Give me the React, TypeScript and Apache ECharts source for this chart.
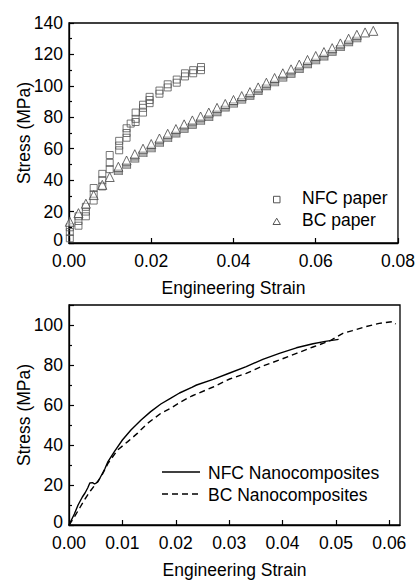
import React, { useEffect, useRef } from "react";
import * as echarts from "echarts";

// ---- Top panel: paper tensile data (strain, stress MPa) ----
const nfcPaperStrain = [
  0.0002, 0.0002, 0.0002, 0.0023, 0.0023, 0.0023, 0.0041, 0.0041, 0.0041,
  0.006, 0.006, 0.006, 0.0081, 0.0081, 0.0081, 0.0099, 0.0099, 0.0099,
  0.0122, 0.0122, 0.0122, 0.014, 0.014, 0.014, 0.015, 0.0162, 0.0162, 0.0162,
  0.018, 0.018, 0.018, 0.0196, 0.0196, 0.0196, 0.022, 0.022, 0.024, 0.024,
  0.0262, 0.0262, 0.0282, 0.0282, 0.0302, 0.0302, 0.0321, 0.0321,
];
const nfcPaperStress = [
  3, 7, 10, 11, 14, 17, 17, 20, 23,
  27, 31, 35, 36, 40, 44, 47, 51, 56,
  59, 62, 65, 67, 70, 73, 76, 77, 79, 83,
  83, 86, 88, 89, 91, 93, 95, 97, 99, 101,
  102, 104, 106, 108, 108, 110, 110, 112,
];

const bcPaperStrain = [
  0.0002, 0.0023, 0.0041, 0.006, 0.0081, 0.0099, 0.012, 0.014, 0.016, 0.018,
  0.02, 0.022, 0.024, 0.026, 0.028, 0.03, 0.032, 0.034, 0.036, 0.038, 0.04,
  0.042, 0.044, 0.046, 0.048, 0.05, 0.052, 0.054, 0.056, 0.058, 0.06, 0.062,
  0.064, 0.066, 0.068, 0.07, 0.072, 0.074,
];
const bcPaperStress = [
  13.5, 19, 25, 30.5, 37, 42, 48.5, 52.5, 56.5, 60,
  63, 66.5, 69.5, 72.5, 75.5, 78, 80.5, 83, 86, 88.5, 91,
  93.5, 96, 99, 102, 105, 108, 110.5, 113.5, 116.5, 119, 121.5,
  124, 127, 130, 132.5, 134, 135,
];
// darker stacked specimens just under the BC triangles
const bcPaperLowerStrain = [
  0.012, 0.014, 0.016, 0.018, 0.02, 0.022, 0.024, 0.026, 0.028, 0.03, 0.032,
  0.034, 0.036, 0.038, 0.04, 0.042, 0.044, 0.046, 0.048, 0.05, 0.052, 0.054,
  0.056, 0.058, 0.06, 0.062, 0.064, 0.066, 0.068, 0.07,
];
const bcPaperLowerStress = [
  45, 49, 53, 56.5, 59.5, 63, 66, 69, 72, 74.5, 77,
  79.5, 82.5, 85.5, 88, 90.5, 93, 96, 99, 101.5, 104.5, 107,
  110, 113, 115.5, 118, 121, 124, 127, 129.5,
];

// ---- Bottom panel: nanocomposite curves ----
const nfcNanoStrain = [
  0, 0.001, 0.0017, 0.0025, 0.003, 0.0035, 0.0039, 0.0044, 0.0048, 0.0054,
  0.006, 0.0067, 0.0073, 0.0085, 0.01, 0.0116, 0.0135, 0.0153, 0.0172, 0.019,
  0.0207, 0.023, 0.0239, 0.027, 0.0301, 0.0332, 0.0363, 0.0394, 0.0426,
  0.0457, 0.048, 0.0505,
];
const nfcNanoStress = [
  0, 5.5, 10, 14, 16, 18.5, 21, 21.2, 20.5, 21.5,
  24.5, 28, 31.7, 36.7, 42.5, 47.5, 52.5, 56.7, 60.5, 63.3,
  66, 68.8, 70, 72.8, 76, 79.2, 82.8, 85.8, 88.6,
  90.6, 91.8, 92.8,
];
const bcNanoStrain = [
  0, 0.001, 0.002, 0.003, 0.004, 0.005, 0.006, 0.0073, 0.0091, 0.011,
  0.0128, 0.0147, 0.0172, 0.019, 0.0209, 0.023, 0.027, 0.0301, 0.0332,
  0.0363, 0.0394, 0.0426, 0.0457, 0.0488, 0.0513, 0.0531, 0.0556, 0.0581,
  0.0606, 0.0612,
];
const bcNanoStress = [
  0, 4, 8.5, 13, 17, 20.5, 24, 30.8, 37.5, 41.7,
  45.8, 50.8, 55.8, 58.3, 61.5, 64.5, 69, 73, 75.8,
  79.5, 82.5, 85.8, 89, 92, 95.8, 97.2, 99.2, 100.8,
  101.7, 100.5,
];

const topXTicks = { min: 0, max: 0.08, interval: 0.02 };
const topYTicks = { min: 0, max: 140, interval: 20 };
const botXTicks = { min: 0, max: 0.062, interval: 0.01 };
const botYTicks = { min: 0, max: 110, interval: 20 };

const legendTop = ["NFC paper", "BC paper"];
const legendBottom = ["NFC Nanocomposites", "BC Nanocomposites"];

const FONT = "Liberation Sans, Arial, sans-serif";
const FS = 17.5;

const zip = (xs: number[], ys: number[]) => xs.map((x, i) => [x, ys[i]]);

function makeXAxis(gridIndex: number, t: { min: number; max: number; interval: number }, hideMax: boolean) {
  return {
    type: "value",
    gridIndex,
    min: t.min,
    max: t.max,
    interval: t.interval,
    name: "Engineering Strain",
    nameLocation: "middle",
    nameGap: 36,
    nameMoveOverlap: false,
    nameTextStyle: { fontFamily: FONT, fontSize: FS, color: "#000" },
    axisLine: { show: true, onZero: false, lineStyle: { color: "#000", width: 1.3 } },
    axisTick: { show: true, inside: true, length: 5, lineStyle: { color: "#000", width: 1.2 } },
    minorTick: { show: false },
    splitLine: { show: false },
    axisLabel: {
      fontFamily: FONT,
      fontSize: FS,
      lineHeight: 13,
      color: "#000",
      margin: 11,
      showMaxLabel: !hideMax,
      formatter: (v: number) => v.toFixed(2),
    },
  };
}

function makeYAxis(gridIndex: number, t: { min: number; max: number; interval: number }, hideMax: boolean) {
  return {
    type: "value",
    gridIndex,
    min: t.min,
    max: t.max,
    interval: t.interval,
    name: "Stress (MPa)",
    nameLocation: "middle",
    nameGap: 36,
    nameMoveOverlap: false,
    nameTextStyle: { fontFamily: FONT, fontSize: FS, color: "#000" },
    axisLine: { show: true, onZero: false, lineStyle: { color: "#000", width: 1.3 } },
    axisTick: { show: true, inside: true, length: 5, lineStyle: { color: "#000", width: 1.2 } },
    minorTick: { show: true, splitNumber: 2, length: 3, lineStyle: { color: "#000", width: 1.2 } },
    splitLine: { show: false },
    axisLabel: {
      fontFamily: FONT,
      fontSize: FS,
      lineHeight: 13,
      color: "#000",
      margin: 6,
      showMaxLabel: !hideMax,
      formatter: (v: number) => (Math.round(v) === 0 ? "{up|0}" : String(Math.round(v))),
      rich: {
        up: { fontFamily: FONT, fontSize: FS, lineHeight: 13, color: "#000", padding: [0, 0, 6, 0] },
      },
    },
  };
}

export default function App() {
  const ref = useRef<HTMLDivElement>(null);

  useEffect(() => {
    if (!ref.current) return;
    const chart = echarts.init(ref.current, undefined, { renderer: "svg" });
    const option = {
      animation: false,
      backgroundColor: "#fff",
      textStyle: { fontFamily: FONT },
      grid: [
        { left: 69, right: 18, top: 23, height: 220, show: true, borderColor: "#000", borderWidth: 1.3, backgroundColor: "transparent" },
        { left: 69, right: 18, top: 305, height: 220, show: true, borderColor: "#000", borderWidth: 1.3, backgroundColor: "transparent" },
      ],
      xAxis: [makeXAxis(0, topXTicks, false), makeXAxis(1, botXTicks, true)],
      yAxis: [makeYAxis(0, topYTicks, false), makeYAxis(1, botYTicks, true)],
      series: [
        {
          name: "BC paper (stacked)",
          type: "scatter",
          xAxisIndex: 0,
          yAxisIndex: 0,
          symbol: "rect",
          symbolSize: [8, 5],
          itemStyle: { color: "#9a9a9a", borderColor: "#555", borderWidth: 0.8 },
          data: zip(bcPaperLowerStrain, bcPaperLowerStress),
          silent: true,
        },
        {
          name: legendTop[0],
          type: "scatter",
          xAxisIndex: 0,
          yAxisIndex: 0,
          symbol: "rect",
          symbolSize: 7,
          itemStyle: { color: "rgba(0,0,0,0)", borderColor: "#555", borderWidth: 1 },
          data: zip(nfcPaperStrain, nfcPaperStress),
        },
        {
          name: legendTop[1],
          type: "scatter",
          xAxisIndex: 0,
          yAxisIndex: 0,
          symbol: "triangle",
          symbolSize: 9,
          itemStyle: { color: "rgba(255,255,255,0.6)", borderColor: "#444", borderWidth: 1 },
          data: zip(bcPaperStrain, bcPaperStress),
        },
        {
          name: legendBottom[0],
          type: "line",
          xAxisIndex: 1,
          yAxisIndex: 1,
          showSymbol: false,
          symbol: "none",
          lineStyle: { color: "#000", width: 1.4, type: "solid" },
          data: zip(nfcNanoStrain, nfcNanoStress),
        },
        {
          name: legendBottom[1],
          type: "line",
          xAxisIndex: 1,
          yAxisIndex: 1,
          showSymbol: false,
          symbol: "none",
          lineStyle: { color: "#000", width: 1.4, type: [6, 4] },
          data: zip(bcNanoStrain, bcNanoStress),
        },
      ],
      graphic: [
        // top legend
        { type: "rect", shape: { x: 273.5, y: 196.3, width: 6.5, height: 6.5 }, style: { fill: "none", stroke: "#555", lineWidth: 1 } },
        { type: "polygon", shape: { points: [[273, 224.5], [280.4, 224.5], [276.7, 218.2]] }, style: { fill: "none", stroke: "#555", lineWidth: 1 } },
        { type: "text", x: 302, y: 197.5, style: { text: legendTop[0], fontFamily: FONT, fontSize: FS, fill: "#000", verticalAlign: "middle", align: "left" } },
        { type: "text", x: 302, y: 219.5, style: { text: legendTop[1], fontFamily: FONT, fontSize: FS, fill: "#000", verticalAlign: "middle", align: "left" } },
        // bottom legend
        { type: "line", shape: { x1: 162, y1: 472, x2: 200, y2: 472 }, style: { stroke: "#000", lineWidth: 1.4 } },
        { type: "line", shape: { x1: 162, y1: 494, x2: 200, y2: 494 }, style: { stroke: "#000", lineWidth: 1.4, lineDash: [6, 4] } },
        { type: "text", x: 208, y: 472.5, style: { text: legendBottom[0], fontFamily: FONT, fontSize: FS, fill: "#000", verticalAlign: "middle", align: "left" } },
        { type: "text", x: 208, y: 494.5, style: { text: legendBottom[1], fontFamily: FONT, fontSize: FS, fill: "#000", verticalAlign: "middle", align: "left" } },
      ],
    };
    chart.setOption(option as any);
    return () => chart.dispose();
  }, []);

  return (
    <div
      ref={ref}
      style={{ position: "absolute", left: 0, top: 0, width: 418, height: 580, background: "#fff" }}
    />
  );
}
